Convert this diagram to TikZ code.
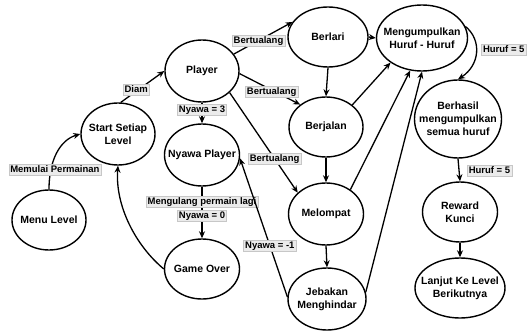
\documentclass[tikz,border=0pt]{standalone}
\usepackage{fontspec}
\setmainfont{Liberation Sans}
\usetikzlibrary{shapes.geometric,arrows.meta}
\begin{document}
\begin{tikzpicture}[x=1pt,y=-1pt,
  state/.style 2 args={ellipse,draw,line width=1.4pt,inner sep=0pt,
    minimum width=#1pt,minimum height=#2pt},
  every label/.style={align=center,inner sep=0pt,
    font=\fontsize{10.5}{13}\selectfont\bfseries},
  lbl/.style={fill=black!8,draw=black!22,line width=0.4pt,inner xsep=1.5pt,
    inner ysep=1pt,text height=7pt,text depth=2pt,
    font=\fontsize{9.5}{10}\selectfont\bfseries},
  edge/.style={line width=1.3pt,-{Stealth[length=7pt,width=6pt]}}]
\useasboundingbox (0,0) rectangle (527,331);

% states
\node[state={74}{60},label={center:Menu Level}] (menu) at (49,220) {};
\node[state={74}{62},label={center:Start Setiap\\Level}] (start) at (118,134) {};
\node[state={74}{62},label={center:Player}] (player) at (202,71) {};
\node[state={75}{62},label={center:Nyawa Player}] (nyawa) at (202,155) {};
\node[state={75}{60},label={center:Game Over}] (game) at (202,269) {};
\node[state={80}{60},label={center:Berlari}] (berlari) at (328,37) {};
\node[state={74}{60},label={center:Berjalan}] (berjalan) at (326,127) {};
\node[state={75}{62},label={center:Melompat}] (melompat) at (326,214) {};
\node[state={78}{62},label={center:Jebakan\\Menghindar}] (jebakan) at (327,299) {};
\node[state={91}{66},label={center:Mengumpulkan\\Huruf - Huruf}] (mk) at (422,38) {};
\node[state={87}{78},label={center:Berhasil\\mengumpulkan\\semua huruf}] (berhasil) at (458,119) {};
\node[state={75}{60},label={center:Reward\\Kunci}] (reward) at (460,212) {};
\node[state={90}{60},label={center:Lanjut Ke Level\\Berikutnya}] (lanjut) at (460,288) {};

% transitions
\draw[edge] (menu.north) .. controls (49,160) and (60,140) .. (start.west)
  node[lbl,pos=0.24,xshift=4pt] {Memulai Permainan};
\draw[edge] (start.85) -- (player.west) node[lbl,pos=0.4,xshift=-2pt] {Diam};
\draw[edge] (game.west) .. controls (135,245) and (115,205) .. (start.south);
\draw[edge] (player.south) -- (nyawa.north) node[lbl,pos=0.35] {Nyawa = 3};
\draw[edge] (nyawa.south) -- (game.north)
  node[lbl,pos=0.3] {Mengulang permain lagi}
  node[lbl,pos=0.57] {Nyawa = 0};
\draw[edge] (player.28) -- (berlari.157) node[lbl,pos=0.42] {Bertualang};
\draw[edge] (player.-4) -- (berjalan.139) node[lbl,pos=0.53,yshift=-2pt] {Bertualang};
\draw[edge] (player.-38) -- (melompat.143) node[lbl,pos=0.66] {Bertualang};
\draw[edge] (jebakan.177) -- (nyawa.-5) node[lbl,pos=0.37] {Nyawa = -1};
\draw[edge] (berlari.south) -- (berjalan.north);
\draw[edge] (berjalan.south) -- (melompat.north);
\draw[edge] (melompat.south) -- (jebakan.north);
\draw[edge] (berlari.east) -- (mk.west);
\draw[edge] (berjalan.40) -- (mk.-142);
\draw[edge] (melompat.45) -- (mk.-110);
\draw[edge] (jebakan.10) -- (mk.-90);
\draw[edge] (mk.15) .. controls (482,40) and (480,65) .. (berhasil.north)
  node[lbl,pos=0.45,anchor=west,xshift=5pt] {Huruf = 5};
\draw[edge] (berhasil.south) -- (reward.north)
  node[lbl,pos=0.54,anchor=west,xshift=8pt] {Huruf = 5};
\draw[edge] (reward.south) -- (lanjut.north);
\end{tikzpicture}
\end{document}
